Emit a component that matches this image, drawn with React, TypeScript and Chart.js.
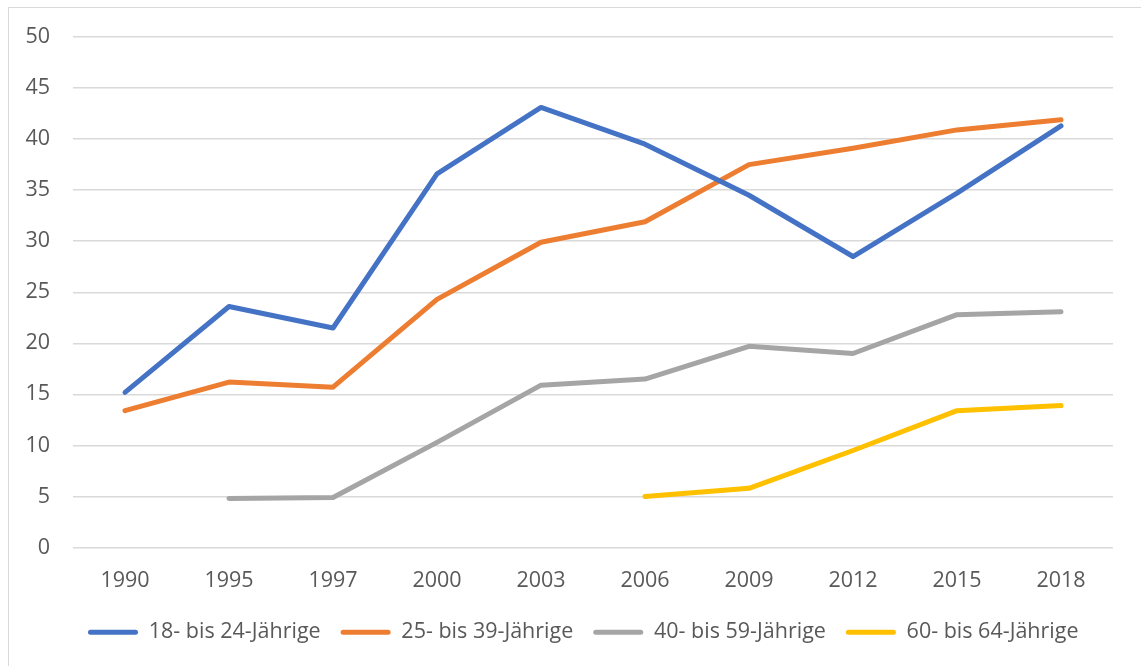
import React, { useEffect, useRef } from "react";
import { Chart, registerables } from "chart.js";

Chart.register(...registerables);

const years = ["1990", "1995", "1997", "2000", "2003", "2006", "2009", "2012", "2015", "2018"];
const age18to24 = [15.2, 23.6, 21.5, 36.6, 43.1, 39.5, 34.5, 28.5, 34.7, 41.3];
const age25to39 = [13.4, 16.2, 15.7, 24.3, 29.9, 31.9, 37.5, 39.1, 40.9, 41.9];
const age40to59 = [null, 4.8, 4.9, 10.3, 15.9, 16.5, 19.7, 19.0, 22.8, 23.1];
const age60to64 = [null, null, null, null, null, 5.0, 5.8, 9.5, 13.4, 13.9];
const seriesLabels = ["18- bis 24-Jährige", "25- bis 39-Jährige", "40- bis 59-Jährige", "60- bis 64-Jährige"];
const seriesColors = ["#4472C4", "#ED7D31", "#A5A5A5", "#FFC000"];

const FONT = "'Open Sans', sans-serif";
const TEXT = "#595959";

const legendShift = {
  id: "legendShift",
  afterLayout(chart: any) {
    const lg = chart.legend;
    if (!lg) return;
    const w = lg.right - lg.left;
    lg.left = 59;
    lg.right = 59 + w;
  },
};

export default function App() {
  const ref = useRef<HTMLCanvasElement | null>(null);

  useEffect(() => {
    if (!ref.current) return;
    const all = [age18to24, age25to39, age40to59, age60to64];
    const chart = new Chart(ref.current, {
      type: "line",
      plugins: [legendShift],
      data: {
        labels: years,
        datasets: all.map((d, i) => ({
          label: seriesLabels[i],
          data: d,
          borderColor: seriesColors[i],
          backgroundColor: seriesColors[i],
          borderWidth: 5,
          pointRadius: 0,
          pointHoverRadius: 0,
          tension: 0,
          borderCapStyle: "round",
          borderJoinStyle: "round",
          spanGaps: false,
        })),
      },
      options: {
        animation: false,
        responsive: true,
        maintainAspectRatio: false,
        layout: { padding: { top: 29, left: 0, right: 28, bottom: 13 } },
        plugins: {
          tooltip: { enabled: false },
          legend: {
            position: "bottom",
            align: "start",
            labels: {
              boxWidth: 50,
              boxHeight: 5,
              padding: 20,
              color: TEXT,
              font: { family: FONT, size: 21.5 },
              useBorderRadius: true,
              borderRadius: 2.5,
              generateLabels: (c: any) => {
                const items = Chart.defaults.plugins.legend.labels.generateLabels(c);
                return items.map((it: any) => ({ ...it, lineWidth: 0, strokeStyle: "transparent" }));
              },
            },
          },
        },
        scales: {
          x: {
            offset: true,
            grid: { display: false, drawTicks: false },
            border: { display: false },
            ticks: { color: TEXT, font: { family: FONT, size: 21.5 }, padding: 20, maxRotation: 0 },
            afterFit: (s: any) => { s.height = 54; },
          },
          y: {
            min: 0,
            max: 50,
            grid: { color: "#d9d9d9", lineWidth: 1.5, drawTicks: true, tickLength: 23, tickColor: "transparent" },
            border: { display: false },
            ticks: { stepSize: 5, color: TEXT, font: { family: FONT, size: 21.5 }, padding: 0 },
            afterFit: (s: any) => { s.width = 64; },
          },
        },
      },
    });
    return () => chart.destroy();
  }, []);

  return (
    <div
      style={{
        position: "absolute",
        left: 8,
        top: 7,
        width: 1133,
        height: 659,
        borderLeft: "1px solid #d9d9d9",
        borderTop: "1px solid #d9d9d9",
        boxSizing: "border-box",
        background: "#fff",
      }}
    >
      <div style={{ position: "absolute", left: 0, top: 0, width: 1132, height: 658 }}>
        <canvas ref={ref} />
      </div>
    </div>
  );
}
